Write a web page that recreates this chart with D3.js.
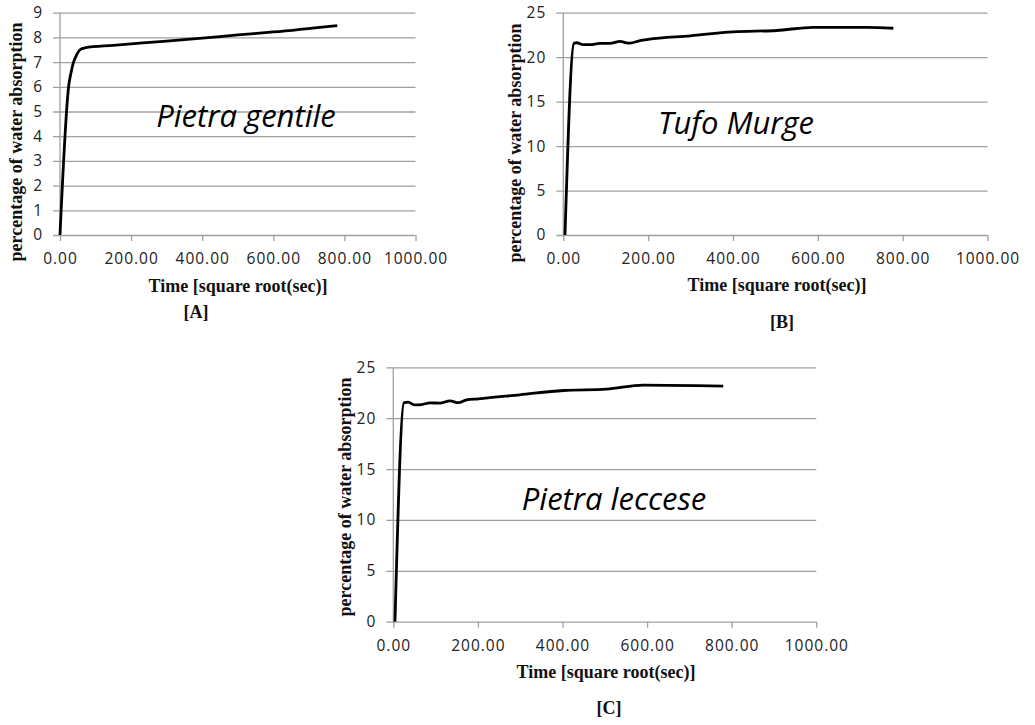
<!DOCTYPE html>
<html>
<head>
<meta charset="utf-8">
<script src="https://cdn.jsdelivr.net/npm/d3@7"></script>
<style>
  body { margin: 0; background: #fff; }
  .tick text { font-family: "Open Sans", sans-serif; font-size: 15.5px; letter-spacing: 1px; fill: #222; }
  .atitle { font-family: "Liberation Serif", serif; font-weight: bold; font-size: 18px; fill: #111; }
  .stone { font-family: "Open Sans", sans-serif; font-style: italic; font-size: 31px; fill: #000; }
</style>
</head>
<body>
<svg id="chart" width="1035" height="725"></svg>
<script>
// time values are sqrt(sec), absorption in %
var timeA  = [0, 25, 30, 37, 47, 56, 70, 150, 300, 400, 500, 600, 780];
var waterA = [0, 6.1, 6.5, 6.95, 7.3, 7.5, 7.58, 7.68, 7.85, 7.97, 8.1, 8.22, 8.48];

var timeB  = [4, 25, 32, 47, 63, 86, 110, 134, 149, 157, 181, 200, 300, 400, 503, 590, 715, 778];
var waterB = [0, 21.55, 21.62, 21.4, 21.4, 21.55, 21.55, 21.78, 21.6, 21.58, 21.86, 22.0, 22.4, 22.85, 23.0, 23.36, 23.36, 23.25];

var timeC  = [4, 25, 35, 51, 67, 87, 110, 134, 154, 173, 201, 299, 402, 504, 591, 717, 780];
var waterC = [0, 21.5, 21.57, 21.3, 21.34, 21.5, 21.48, 21.7, 21.52, 21.8, 21.9, 22.3, 22.72, 22.85, 23.25, 23.2, 23.15];

var xTicks = [0, 200, 400, 600, 800, 1000];
var yTicksA = [0, 1, 2, 3, 4, 5, 6, 7, 8, 9];
var yTicksBC = [0, 5, 10, 15, 20, 25];

var svg = d3.select("#chart");

function drawpanel(p){
	var g = svg.append("g").attr("class","panel");

	var x = d3.scaleLinear().domain([0,1000]).range([p.left, p.right]);
	var y = d3.scaleLinear().domain([0, p.ymax]).range([p.bottom, p.top]);

	// gridlines + y axis labels
	var yaxis = g.append("g")
		.attr("transform","translate(" + p.left + ",0)")
		.call(d3.axisLeft(y).tickValues(p.yticks).tickSize(-(p.right-p.left)).tickSizeOuter(0).tickPadding(17))
	yaxis.select(".domain").remove();
	yaxis.selectAll(".tick line")
		.attr("x1", -7)
		.attr("stroke","#a0a0a0")
		.attr("stroke-width",1.3);

	// y axis vertical line
	g.append("line")
		.attr("x1", p.left).attr("x2", p.left)
		.attr("y1", p.top).attr("y2", p.bottom)
		.attr("stroke","#a0a0a0")
		.attr("stroke-width",1.3);

	// x axis
	var xaxis = g.append("g")
		.attr("transform","translate(0," + p.bottom + ")")
		.call(d3.axisBottom(x).tickValues(xTicks).tickSize(6).tickSizeOuter(0).tickPadding(12)
			.tickFormat(function(d){ return d3.format(".2f")(d) }))
	xaxis.select(".domain").remove();
	xaxis.selectAll(".tick line")
		.attr("stroke","#a0a0a0")
		.attr("stroke-width",1.3);

	// curve
	var pts = p.time.map(function(t,i){ return [t, p.water[i]] });
	g.append("path")
		.datum(pts)
		.attr("fill","none")
		.attr("stroke","#000")
		.attr("stroke-width",2.8)
		.attr("stroke-linejoin","round")
		.attr("d", d3.line()
			.x(function(d){ return x(d[0]) })
			.y(function(d){ return y(d[1]) })
			.curve(d3.curveMonotoneX));

	// axis titles
	g.append("text")
		.attr("class","atitle")
		.attr("x", p.xtitle[0]).attr("y", p.xtitle[1])
		.attr("text-anchor","middle")
		.text("Time [square root(sec)]");

	g.append("text")
		.attr("class","atitle")
		.attr("transform","translate(" + p.ytitle[0] + "," + p.ytitle[1] + ") rotate(-90)")
		.attr("text-anchor","middle")
		.text("percentage of water absorption");

	g.append("text")
		.attr("class","atitle")
		.attr("x", p.letter[0]).attr("y", p.letter[1])
		.attr("text-anchor","middle")
		.text(p.tag);

	// stone name
	g.append("text")
		.attr("class","stone")
		.attr("x", p.name[0]).attr("y", p.name[1])
		.attr("text-anchor","middle")
		.text(p.label);
};

drawpanel({left:60, right:415.5, top:12.7, bottom:235, ymax:9, yticks:yTicksA,
	time:timeA, water:waterA, label:"Pietra gentile", tag:"[A]",
	name:[246,127], xtitle:[238,292], ytitle:[22,142], letter:[196,318]});

drawpanel({left:563.3, right:987.5, top:12.7, bottom:235, ymax:25, yticks:yTicksBC,
	time:timeB, water:waterB, label:"Tufo Murge", tag:"[B]",
	name:[736,134], xtitle:[777,291], ytitle:[521,143], letter:[782,328]});

drawpanel({left:393.3, right:816.3, top:367.3, bottom:621.7, ymax:25, yticks:yTicksBC,
	time:timeC, water:waterC, label:"Pietra leccese", tag:"[C]",
	name:[614,510], xtitle:[606,678], ytitle:[351,497], letter:[609,714]});
</script>
</body>
</html>
